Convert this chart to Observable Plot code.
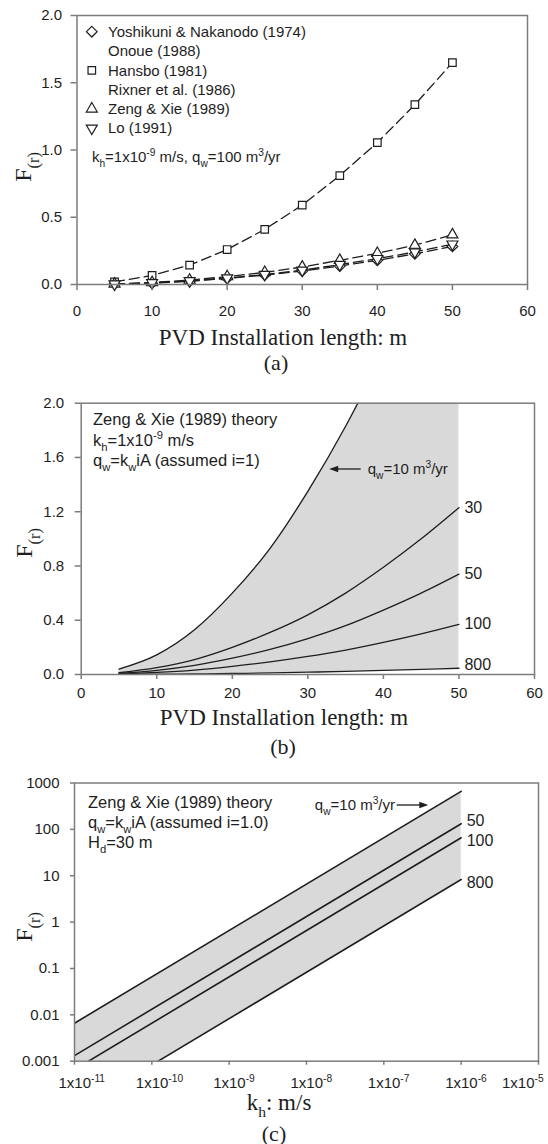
<!DOCTYPE html>
<html>
<head>
<meta charset="utf-8">
<script src="https://cdn.jsdelivr.net/npm/d3@7"></script>
<script src="https://cdn.jsdelivr.net/npm/@observablehq/plot@0.6"></script>
<style>
  html, body { margin: 0; padding: 0; background: #fff; }
  #chart svg { display: block; }
  #chart text { white-space: pre; }
</style>
</head>
<body>
<div id="chart"></div>
<script>
// ---------------- Panel (a) data ----------------
const lengthsA = [5, 10, 15, 20, 25, 30, 35, 40, 45, 50];
const yoshikuniA = [0.003, 0.010, 0.024, 0.045, 0.070, 0.100, 0.137, 0.180, 0.228, 0.283];
const hansboA = [0.020, 0.067, 0.144, 0.260, 0.410, 0.590, 0.810, 1.055, 1.337, 1.650];
const zengXieA = [0.004, 0.015, 0.033, 0.059, 0.090, 0.130, 0.180, 0.232, 0.292, 0.370];
const loA = [0.003, 0.012, 0.027, 0.048, 0.074, 0.106, 0.148, 0.192, 0.242, 0.300];
const legendNamesA = ["Yoshikuni & Nakanodo (1974)", "Onoue (1988)", "Hansbo (1981)", "Rixner et al. (1986)", "Zeng & Xie (1989)", "Lo (1991)"];
const legendSymbolsA = ["diamond", "", "square", "", "triangle", "triangleDown"];
const xTicksA = [0, 10, 20, 30, 40, 50, 60];
const yTicksA = [0, 0.5, 1.0, 1.5, 2.0];

// ---------------- Panel (b) data ----------------
const lengthsB = [5, 10, 15, 20, 25, 30, 35, 40, 45, 50];
const qwLabelsB = ["10", "30", "50", "100", "800"];
const frB10 = [0.040, 0.145, 0.330, 0.600, 0.930, 1.350, 1.830, 2.380, 3.000, 3.700];
const frB30 = [0.013, 0.050, 0.110, 0.200, 0.310, 0.440, 0.600, 0.790, 1.000, 1.230];
const frB50 = [0.008, 0.030, 0.067, 0.120, 0.185, 0.265, 0.360, 0.475, 0.600, 0.740];
const frB100 = [0.004, 0.015, 0.033, 0.060, 0.093, 0.133, 0.180, 0.237, 0.300, 0.370];
const frB800 = [0.0005, 0.002, 0.004, 0.0075, 0.012, 0.017, 0.023, 0.030, 0.038, 0.046];
const xTicksB = [0, 10, 20, 30, 40, 50, 60];
const yTicksB = [0, 0.4, 0.8, 1.2, 1.6, 2.0];

// ---------------- Panel (c) data ----------------
const khC = [1e-11, 1e-6];
const qwLabelsC = ["10", "50", "100", "800"];
const frC10 = [0.0066, 660];
const frC50 = [0.00132, 132];
const frC100 = [0.00066, 66];
const frC800 = [0.000083, 8.3];
const khTicks = [1e-11, 1e-10, 1e-9, 1e-8, 1e-7, 1e-6, 1e-5];
const khTickExponents = ["-11", "-10", "-9", "-8", "-7", "-6", "-5"];
const frTicks = [0.001, 0.01, 0.1, 1, 10, 100, 1000];
const frTickLabels = ["0.001", "0.01", "0.1", "1", "10", "100", "1000"];

// ---------------- Styling helpers ----------------
const SANS = "Liberation Sans, Arial, Helvetica, sans-serif";
const SERIF = "Liberation Serif, Times New Roman, serif";
const INK = "#1e1e1e";
const AXIS = "#7c7c7c";
const SHADE = "#d9d9d9";
const STYLE = {fontFamily: SANS, fontSize: "15px", background: "#fff", color: INK, overflow: "visible"};

const triangleDown = {
  draw(context, size) {
    const a = Math.sqrt(4 * size / Math.sqrt(3)) * 0.85;
    const h = a * Math.sqrt(3) / 2;
    context.moveTo(0, 2 * h / 3);
    context.lineTo(-a / 2, -h / 3);
    context.lineTo(a / 2, -h / 3);
    context.closePath();
  }
};
const triangleUp = {
  draw(context, size) {
    const a = Math.sqrt(4 * size / Math.sqrt(3)) * 0.85;
    const h = a * Math.sqrt(3) / 2;
    context.moveTo(0, -2 * h / 3);
    context.lineTo(a / 2, h / 3);
    context.lineTo(-a / 2, h / 3);
    context.closePath();
  }
};
const symbolMap = {diamond: d3.symbolDiamond2, square: d3.symbolSquare2, triangle: triangleUp, triangleDown: triangleDown};

function drawRich(g, X, Y, o) {
  const size = o.size || 15;
  const t = g.append("text")
    .attr("font-family", o.family || SANS)
    .attr("font-size", size)
    .attr("fill", o.fill || INK)
    .attr("text-anchor", o.anchor || "start")
    .attr("transform", `translate(${X},${Y})` + (o.rotate ? ` rotate(${o.rotate})` : ""))
    .attr("y", (size * 0.35).toFixed(2));
  let off = 0;
  for (const p of o.parts) {
    const [s, k] = Array.isArray(p) ? p : [p, ""];
    const target = k === "sub" ? size * 0.32 : k === "sup" ? -size * 0.42 : 0;
    const sp = t.append("tspan").text(s);
    if (target - off !== 0) sp.attr("dy", (target - off).toFixed(2));
    if (k) sp.attr("font-size", (size * 0.68).toFixed(2));
    off = target;
  }
}

function annotations(items) {
  return (index, scales, values, dims) => {
    const g = d3.create("svg:g");
    for (const it of items) {
      let X, Y;
      if ("px" in it) { X = it.px; Y = it.py; }
      else if ("fx" in it) { X = dims.marginLeft + it.fx; Y = dims.marginTop + it.fy; }
      else { X = scales.x(it.x) + (it.dx || 0); Y = scales.y(it.y) + (it.dy || 0); }
      drawRich(g, X, Y, it);
    }
    return g.node();
  };
}

function arrowMark({fx1, fx2, fy, head = 9}) {
  return (index, scales, values, dims) => {
    const g = d3.create("svg:g");
    const x1 = dims.marginLeft + fx1, x2 = dims.marginLeft + fx2, y = dims.marginTop + fy;
    const dir = Math.sign(x2 - x1);
    g.append("line").attr("x1", x1).attr("x2", x2 - dir * head * 0.7).attr("y1", y).attr("y2", y)
      .attr("stroke", INK).attr("stroke-width", 1.3);
    g.append("path").attr("d", `M${x2},${y}L${x2 - dir * head},${y - 3.2}L${x2 - dir * head},${y + 3.2}Z`).attr("fill", INK);
    return g.node();
  };
}

// ---------------- Panel (a) ----------------
const seriesA = [
  {name: "Yoshikuni & Nakanodo (1974)", values: yoshikuniA, symbol: "diamond"},
  {name: "Hansbo (1981)", values: hansboA, symbol: "square"},
  {name: "Zeng & Xie (1989)", values: zengXieA, symbol: "triangle"},
  {name: "Lo (1991)", values: loA, symbol: "triangleDown"}
];
const rowsA = seriesA.flatMap(s => lengthsA.map((L, i) => ({L, F: s.values[i], name: s.name})));
const MARK_R = 4.8;

function legendA(index, scales, values, dims) {
  const g = d3.create("svg:g");
  legendNamesA.forEach((name, k) => {
    const y = dims.marginTop + 16.7 + k * 19.3;
    const sym = symbolMap[legendSymbolsA[k]];
    if (sym) {
      g.append("path")
        .attr("transform", `translate(${dims.marginLeft + 15.3},${y})`)
        .attr("d", d3.symbol(sym, Math.PI * MARK_R * MARK_R)())
        .attr("fill", "white").attr("stroke", INK).attr("stroke-width", 1.2);
    }
    drawRich(g, dims.marginLeft + 31.5, y, {parts: [name], size: 15});
  });
  return g.node();
}

const plotA = Plot.plot({
  width: 548, height: 376,
  marginTop: 15, marginRight: 21, marginBottom: 92, marginLeft: 76.5,
  style: STYLE,
  x: {domain: [0, 60]},
  y: {domain: [0, 2]},
  marks: [
    Plot.line(rowsA, {x: "L", y: "F", z: "name", stroke: INK, strokeWidth: 1.3, strokeDasharray: "10,5"}),
    ...seriesA.map(s => Plot.dot(rowsA.filter(d => d.name === s.name), {
      x: "L", y: "F", symbol: symbolMap[s.symbol], r: MARK_R, fill: "white", stroke: INK, strokeWidth: 1.2
    })),
    Plot.frame({stroke: AXIS, strokeWidth: 1.5}),
    Plot.axisX({ticks: xTicksA, tickSize: 6, tickPadding: 14.5, stroke: AXIS, strokeWidth: 1.5, fill: INK, fontSize: 15, label: null}),
    Plot.axisY({ticks: yTicksA, tickFormat: d3.format(".1f"), tickSize: 6, tickPadding: 9, stroke: AXIS, strokeWidth: 1.5, fill: INK, fontSize: 15, label: null}),
    legendA,
    annotations([
      {fx: 15.4, fy: 142, size: 15, parts: ["k", ["h", "sub"], "=1x10", ["-9", "sup"], " m/s, q", ["w", "sub"], "=100 m", ["3", "sup"], "/yr"]},
      {px: 283, py: 337, size: 23, family: SERIF, anchor: "middle", parts: ["PVD Installation length: m"]},
      {px: 276, py: 362, size: 22, family: SERIF, anchor: "middle", parts: ["(a)"]},
      {px: 23, py: 167, size: 24, family: SERIF, anchor: "middle", rotate: -90, parts: ["F", ["(r)", "sub"]]}
    ])
  ]
});

// ---------------- Panel (b) ----------------
const seriesB = [frB10, frB30, frB50, frB100, frB800];
const rowsB = seriesB.flatMap((vals, k) => lengthsB.map((L, i) => ({L, F: vals[i], q: qwLabelsB[k]})));

const plotB = Plot.plot({
  width: 548, height: 384,
  marginTop: 26.7, marginRight: 14, marginBottom: 86, marginLeft: 80.7,
  style: STYLE,
  x: {domain: [0, 60]},
  y: {domain: [0, 2]},
  marks: [
    Plot.areaY(lengthsB, {x: d => d, y1: (d, i) => frB800[i], y2: (d, i) => frB10[i], fill: SHADE, curve: "monotone-x", clip: true}),
    Plot.line(rowsB, {x: "L", y: "F", z: "q", stroke: INK, strokeWidth: 1.3, curve: "monotone-x", clip: true}),
    Plot.frame({stroke: AXIS, strokeWidth: 1.5}),
    Plot.axisX({ticks: xTicksB, tickSize: 5, tickPadding: 7.5, stroke: AXIS, strokeWidth: 1.5, fill: INK, fontSize: 15, label: null}),
    Plot.axisY({ticks: yTicksB, tickFormat: d3.format(".1f"), tickSize: 6, tickPadding: 11, stroke: AXIS, strokeWidth: 1.5, fill: INK, fontSize: 15, label: null}),
    arrowMark({fx1: 280, fx2: 248.5, fy: 66.3}),
    annotations([
      {fx: 12.3, fy: 17, size: 16.5, parts: ["Zeng & Xie (1989) theory"]},
      {fx: 12.3, fy: 37.5, size: 16.5, parts: ["k", ["h", "sub"], "=1x10", ["-9", "sup"], " m/s"]},
      {fx: 12.3, fy: 57.5, size: 16.5, parts: ["q", ["w", "sub"], "=k", ["w", "sub"], "iA (assumed i=1)"]},
      {fx: 287, fy: 66.3, size: 15, parts: ["q", ["w", "sub"], "=10 m", ["3", "sup"], "/yr"]},
      ...seriesB.slice(1).map((vals, k) => ({x: lengthsB[lengthsB.length - 1], y: vals[vals.length - 1], dx: 6, dy: k === 3 ? -3 : 0, size: 16, parts: [qwLabelsB[k + 1]]})),
      {px: 284, py: 340.7, size: 23, family: SERIF, anchor: "middle", parts: ["PVD Installation length: m"]},
      {px: 283, py: 370, size: 22, family: SERIF, anchor: "middle", parts: ["(b)"]},
      {px: 24, py: 167, size: 24, family: SERIF, anchor: "middle", rotate: -90, parts: ["F", ["(r)", "sub"]]}
    ])
  ]
});

// ---------------- Panel (c) ----------------
const seriesC = [frC10, frC50, frC100, frC800];
const rowsC = seriesC.flatMap((vals, k) => khC.map((kh, i) => ({kh, F: vals[i], q: qwLabelsC[k]})));
const labelShiftC = [0, -3, 3, 3];

function khTickLabels(index, scales, values, dims) {
  const g = d3.create("svg:g");
  const y = dims.height - dims.marginBottom + 22.3;
  khTicks.forEach((t, k) => {
    // keep the last label inside the picture, as the reference does
    const x0 = Math.min(scales.x(t) - 15.5, dims.width - 46);
    drawRich(g, x0, y, {size: 15, parts: ["1x10", [khTickExponents[k], "sup"]]});
  });
  return g.node();
}

const plotC = Plot.plot({
  width: 548, height: 384,
  marginTop: 22.5, marginRight: 10, marginBottom: 83.3, marginLeft: 74,
  style: STYLE,
  x: {type: "log", domain: [1e-11, 1e-5]},
  y: {type: "log", domain: [0.001, 1000]},
  marks: [
    Plot.areaY(khC, {x: d => d, y1: (d, i) => frC800[i], y2: (d, i) => frC10[i], fill: SHADE, clip: true}),
    Plot.line(rowsC, {x: "kh", y: "F", z: "q", stroke: INK, strokeWidth: 1.6, clip: true}),
    Plot.frame({stroke: AXIS, strokeWidth: 1.5}),
    Plot.axisX({ticks: khTicks, tickFormat: () => "", tickSize: 4, stroke: AXIS, strokeWidth: 1.5, label: null}),
    Plot.axisY({ticks: frTicks, tickFormat: d => frTickLabels[frTicks.indexOf(d)], tickSize: 4, tickPadding: 11, stroke: AXIS, strokeWidth: 1.5, fill: INK, fontSize: 15, label: null}),
    khTickLabels,
    arrowMark({fx1: 322.7, fx2: 354.3, fy: 22.5}),
    annotations([
      {fx: 14, fy: 19.5, size: 16.5, parts: ["Zeng & Xie (1989) theory"]},
      {fx: 14, fy: 39.5, size: 16.5, parts: ["q", ["w", "sub"], "=k", ["w", "sub"], "iA (assumed i=1.0)"]},
      {fx: 14, fy: 59.5, size: 16.5, parts: ["H", ["d", "sub"], "=30 m"]},
      {fx: 321, fy: 22.5, size: 15, anchor: "end", parts: ["q", ["w", "sub"], "=10 m", ["3", "sup"], "/yr"]},
      ...seriesC.slice(1).map((vals, k) => ({x: khC[khC.length - 1], y: vals[vals.length - 1], dx: 6, dy: labelShiftC[k + 1], size: 16, parts: [qwLabelsC[k + 1]]})),
      {px: 279, py: 341.7, size: 23, family: SERIF, anchor: "middle", parts: ["k", ["h", "sub"], ": m/s"]},
      {px: 274, py: 373, size: 22, family: SERIF, anchor: "middle", parts: ["(c)"]},
      {px: 24, py: 167, size: 24, family: SERIF, anchor: "middle", rotate: -90, parts: ["F", ["(r)", "sub"]]}
    ])
  ]
});

const root = document.getElementById("chart");
root.append(plotA, plotB, plotC);
</script>
</body>
</html>
